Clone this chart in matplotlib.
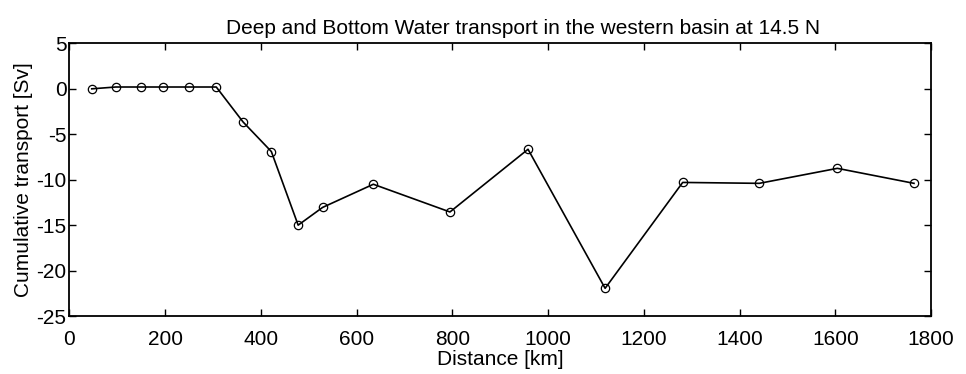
import numpy as np
import matplotlib
matplotlib.use('Agg')
import matplotlib.pyplot as plt

# distance along section (km) and cumulative transport (Sv)
distance = [47, 97, 150, 195, 250, 307, 363, 422, 478, 529, 635, 795, 958, 1119, 1281, 1441, 1604, 1764]
transport = [0.0, 0.2, 0.2, 0.2, 0.2, 0.2, -3.65, -6.9, -15.0, -13.05, -10.5, -13.55, -6.65, -21.95, -10.3, -10.4, -8.75, -10.4]

xticks = [0, 200, 400, 600, 800, 1000, 1200, 1400, 1600, 1800]
yticks = [5, 0, -5, -10, -15, -20, -25]

plt.rcParams['font.family'] = ['Liberation Sans', 'DejaVu Sans']
plt.rcParams['axes.unicode_minus'] = False

fig = plt.figure(figsize=(9.66, 3.74), dpi=100)
ax = fig.add_axes([0.0717, 0.155, 0.8923, 0.729])
ax.plot(distance, transport, color='black', lw=1.2, marker='o', ms=6,
        mfc='none', mec='black', mew=0.9)
ax.set_xlim(0, 1800)
ax.set_ylim(-25, 5)
ax.set_xticks(xticks)
ax.set_yticks(yticks)
ax.tick_params(direction='in', top=True, right=True, labelsize=15, length=5, width=1)
ax.tick_params(axis='y', pad=2)
ax.tick_params(axis='x', pad=10)
for s in ax.spines.values():
    s.set_linewidth(1.3)
ax.set_xlabel('Distance [km]', fontsize=15, labelpad=1)
ax.set_ylabel('Cumulative transport [Sv]', fontsize=15, labelpad=2)
ax.set_title('Deep and Bottom Water transport in the western basin at 14.5 N',
             fontsize=15, pad=7, x=0.527)

fig.savefig('out.png', dpi=100)
